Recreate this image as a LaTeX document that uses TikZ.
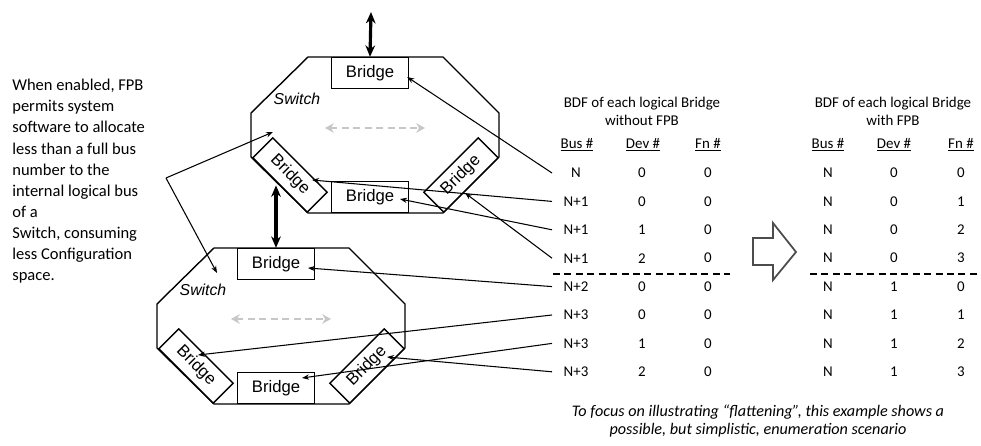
\documentclass[tikz,border=0pt]{standalone}
\usepackage{fontspec}
\setmainfont{Carlito}
\newfontfamily\arialfont{Liberation Sans}
\usetikzlibrary{arrows.meta,calc}

\begin{document}
\begin{tikzpicture}[x=0.02cm, y=-0.02cm,
    bridge/.style={draw, fill=white, line width=0.8pt, minimum width=1.54cm, minimum height=0.62cm,
      inner sep=0pt, font=\arialfont\fontsize{9.5}{11}\selectfont},
    swlabel/.style={font=\arialfont\itshape\fontsize{9}{11}\selectfont},
    cell/.style={font=\fontsize{8.5}{10}\selectfont, inner sep=0pt},
    head/.style={font=\fontsize{8.5}{10.2}\selectfont, align=center},
    link/.style={-{Stealth[length=4pt,width=3pt]}, line width=0.6pt},
    updown/.style={{Stealth[length=6.5pt,width=5.5pt]}-{Stealth[length=6.5pt,width=5.5pt]}, line width=1.8pt}]
  \useasboundingbox (0,0) rectangle (981,446);

  % the text on the left
  \node[anchor=north west, align=left, inner sep=0pt, font=\fontsize{9.4}{12}\selectfont] (desc) at (12,79)
    {When enabled, FPB\\permits system\\software to allocate\\less than a full bus\\number to the\\internal logical bus\\of a\\Switch, consuming\\less Configuration\\space.};
  \coordinate (txt) at (166,178);

  % the two switches
  \foreach \s/\dx/\dy in {a/0/0, b/-94/191} {
    \begin{scope}[shift={(\dx,\dy)}]
      \draw[line width=0.8pt] (308,57) -- (443,57) -- (499,113) -- (499,157) -- (443,213) -- (308,213) -- (251,157) -- (251,113) -- cycle;
      \node[bridge] (\s-top) at (370,73) {Bridge};
      \node[bridge] (\s-bot) at (370,197) {Bridge};
      \node[bridge, minimum height=0.56cm, rotate=-45] (\s-ll) at (290,175) {Bridge};
      \node[bridge, minimum height=0.56cm, rotate=45] (\s-lr) at (461,175) {Bridge};
      \node[swlabel] (\s-lbl) at (297,99) {Switch};
      \draw[{Stealth[length=5pt,width=5.5pt]}-{Stealth[length=5pt,width=5.5pt]}, line width=1.3pt, dashed, dash pattern=on 4pt off 2.5pt, black!22] (325,128) -- (425,128);
    \end{scope}
  }

  % links up and between the switches
  \coordinate (up) at (371,12);
  \draw[updown] (up) -- (a-top.north);
  \draw[updown] (b-top.north |- a-ll.south) -- (b-top.north);

  % BDF without FPB
  \node[head] (hd1) at (642,111) {BDF of each logical Bridge\\without FPB};
  \node[cell] at (577,145) {\underline{Bus \#}};
  \node[cell] at (643,145) {\underline{Dev \#}};
  \node[cell] at (708,145) {\underline{Fn \#}};
  \foreach \b/\d/\f [count=\i] in {N/0/0, N+1/0/0, N+1/1/0, N+1/2/0, N+2/0/0, N+3/0/0, N+3/1/0, N+3/2/0} {
    \node[cell] (bus\i) at (576,{173+28.4*(\i-1)}) {\b};
    \node[cell] (dev\i) at (642,{173+28.4*(\i-1)}) {\d};
    \node[cell] (fn\i) at (708,{173+28.4*(\i-1)}) {\f};
  }
  \draw[dashed, line width=0.8pt, dash pattern=on 4pt off 2.5pt] (553,274) -- (730,274);

  % BDF with FPB
  \node[head] (hd2) at (893,111) {BDF of each logical Bridge\\with FPB};
  \node[cell] at (828,145) {\underline{Bus \#}};
  \node[cell] at (894,145) {\underline{Dev \#}};
  \node[cell] at (961,145) {\underline{Fn \#}};
  \foreach \d/\f [count=\i] in {0/0, 0/1, 0/2, 0/3, 1/0, 1/1, 1/2, 1/3} {
    \node[cell] (nbus\i) at (828,{173+28.4*(\i-1)}) {N};
    \node[cell] (ndev\i) at (894,{173+28.4*(\i-1)}) {\d};
    \node[cell] (nfn\i) at (961,{173+28.4*(\i-1)}) {\f};
  }
  \draw[dashed, line width=0.8pt, dash pattern=on 4pt off 2.5pt] (810,274) -- (981,274);

  % the big arrow
  \draw[line width=1pt, black!70] (753,238) -- (773,238) -- (773,223) -- (796,252) -- (773,280) -- (773,265) -- (753,265) -- cycle;

  \node[align=center, font=\itshape\fontsize{9.2}{10.4}\selectfont] (note) at (758,421)
    {To focus on illustrating “flattening”, this example shows a\\possible, but simplistic, enumeration scenario};

  % rows to bridges
  \coordinate (lnk) at (552,0);
  \draw[link] (lnk |- bus1) -- ($(a-top.east)+(-2,4)$);
  \draw[link] (lnk |- bus2) -- ($(a-ll)+(22,5)$);
  \draw[link] (lnk |- bus3) -- ($(a-bot)+(30,2)$);
  \draw[link] (lnk |- bus4) -- ($(a-lr)+(4,18)$);
  \draw[link] (lnk |- bus5) -- ($(b-top)+(32,4)$);
  \draw[link] (lnk |- bus6) -- ($(b-ll)+(2,-11)$);
  \draw[link] (lnk |- bus7) -- ($(b-bot)+(26,-10)$);
  \draw[link] (lnk |- bus8) -- ($(b-lr)+(20,-9)$);

  % text to the switches
  \draw[link] (txt) -- ($(a-lbl)+(-24,33)$);
  \draw[link] (txt) -- ($(b-lbl)+(14,-17)$);
\end{tikzpicture}
\end{document}
